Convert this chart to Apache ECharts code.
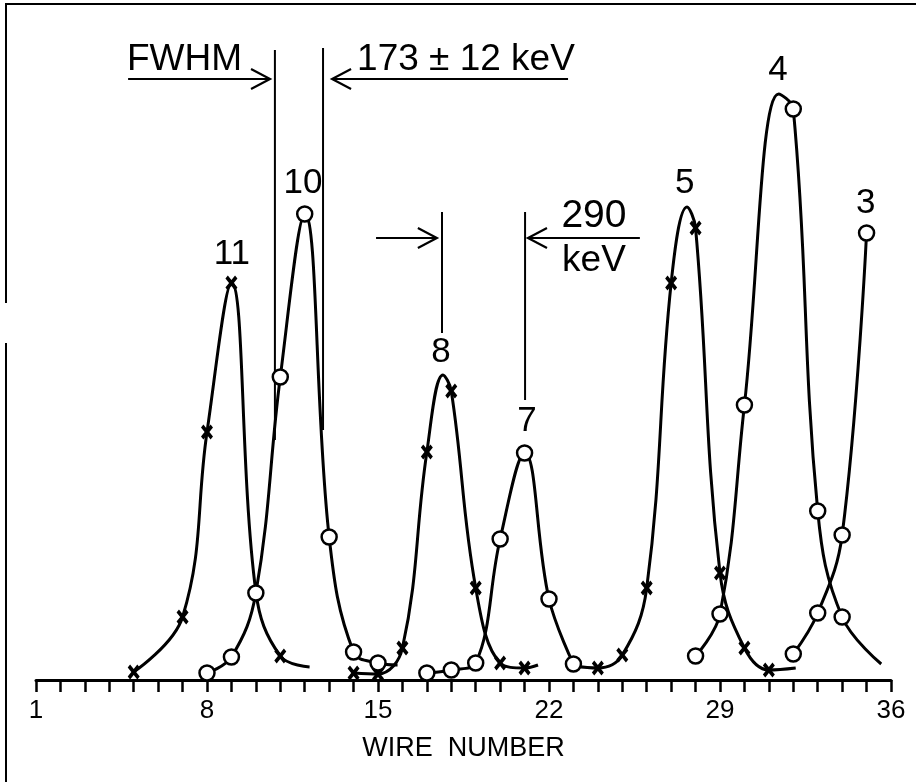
<!DOCTYPE html>
<html>
<head>
<meta charset="utf-8">
<script src="https://cdn.jsdelivr.net/npm/echarts@6/dist/echarts.min.js"></script>
<style>
html, body { margin: 0; padding: 0; background: #fff; }
#chart_wire { width: 916px; height: 782px; }
</style>
</head>
<body>
<div id="chart_wire"></div>
<script>
// counts per wire (arbitrary units, baseline = 0)
// markN: 1 = measured point drawn with a marker, 0 = point on the drawn curve only
var wire11 = [5, 7, 8, 9, 10, 11, 12.2];
var count11 = [8, 63, 248, 397, 88, 24, 13];
var mark11 = [1, 1, 1, 1, 0, 1, 0];

var wire10 = [8, 9, 10, 11, 12, 13, 14, 15, 15.8];
var count10 = [7, 23, 87, 303, 466, 143, 28, 17, 15];
var mark10 = [1, 1, 1, 1, 1, 1, 1, 1, 0];

var wire8 = [14, 15, 16, 17, 17.66, 18, 19, 20, 21, 21.55];
var count8 = [7, 6, 32, 228, 305, 289, 92, 17, 12, 15];
var mark8 = [1, 1, 1, 1, 0, 1, 1, 1, 1, 0];

var wire7 = [17, 18, 19, 20, 21, 22, 23];
var count7 = [7, 10, 17, 141, 227, 81, 16];
var mark7 = [1, 1, 1, 1, 1, 1, 1];

var wire5 = [23, 24, 25, 26, 27, 27.65, 28, 29, 30, 31, 32.1];
var count5 = [14, 12, 25, 92, 397, 473, 452, 107, 32, 10, 12];
var mark5 = [0, 1, 1, 1, 1, 0, 1, 1, 1, 1, 0];

var wire4 = [28, 29, 30, 31.4, 32, 33, 34, 35.6];
var count4 = [24, 66, 275, 586, 571, 169, 63, 16];
var mark4 = [1, 1, 1, 0, 1, 1, 1, 0];

var wire3 = [32, 33, 34, 35];
var count3 = [26, 67, 145, 447];
var mark3 = [1, 1, 1, 1];

var tickLabels = [1, 8, 15, 22, 29, 36];

var crossPath = 'path://M0,4 L4,0 L10,6 L16,0 L20,4 L14,10 L20,16 L16,20 L10,14 L4,20 L0,16 L6,10 Z';
var font = 'Liberation Sans';

function points(xs, ys, marks) {
    return xs.map(function (x, i) {
        var item = { value: [x, ys[i]] };
        if (!marks[i]) item.symbol = 'none';
        return item;
    });
}

function peak(name, xs, ys, marks, kind) {
    var cross = kind === 'x';
    return {
        name: name,
        type: 'line',
        smooth: 0.4,
        data: points(xs, ys, marks),
        symbol: cross ? crossPath : 'circle',
        symbolSize: cross ? [12, 15] : 15,
        showAllSymbol: true,
        lineStyle: { color: '#000', width: 3 },
        itemStyle: cross
            ? { color: '#000', borderWidth: 0 }
            : { color: '#fff', borderColor: '#000', borderWidth: 2.5 },
        z: cross ? 3 : 4
    };
}

var myChart = echarts.init(document.getElementById('chart_wire'));

var option = {
    animation: false,
    backgroundColor: '#fff',
    grid: { left: 36, right: 25, top: 80, bottom: 102 },
    xAxis: {
        type: 'value',
        min: 1,
        max: 36,
        interval: 1,
        name: 'WIRE  NUMBER',
        nameLocation: 'middle',
        nameGap: 55,
        nameTextStyle: { color: '#000', fontSize: 27, fontFamily: font },
        axisLine: { lineStyle: { color: '#000', width: 3 } },
        axisTick: { length: 12, lineStyle: { color: '#000', width: 2.5 } },
        splitLine: { show: false },
        axisLabel: {
            color: '#000',
            fontSize: 26,
            fontFamily: font,
            margin: 18,
            formatter: function (v) {
                return tickLabels.indexOf(v) >= 0 ? String(v) : '';
            }
        }
    },
    yAxis: {
        type: 'value',
        min: 0,
        max: 600,
        show: false
    },
    series: [
        peak('11', wire11, count11, mark11, 'x'),
        peak('10', wire10, count10, mark10, 'o'),
        peak('8', wire8, count8, mark8, 'x'),
        peak('7', wire7, count7, mark7, 'o'),
        peak('5', wire5, count5, mark5, 'x'),
        peak('4', wire4, count4, mark4, 'o'),
        peak('3', wire3, count3, mark3, 'o')
    ]
};

myChart.setOption(option);

// annotations, placed in data coordinates
function px(x, y) {
    return myChart.convertToPixel({ gridIndex: 0 }, [x, y]);
}

function vline(x, y1, y2) {
    var a = px(x, y1), b = px(x, y2);
    return { type: 'line', shape: { x1: a[0], y1: a[1], x2: b[0], y2: b[1] },
        style: { stroke: '#000', lineWidth: 2 } };
}

function arrow(xFrom, xTo, y) {
    var a = px(xFrom, y), b = px(xTo, y);
    var dir = b[0] > a[0] ? 1 : -1;
    return [
        { type: 'line', shape: { x1: a[0], y1: a[1], x2: b[0], y2: b[1] },
            style: { stroke: '#000', lineWidth: 2.2 } },
        { type: 'polyline', shape: { points: [[b[0] - dir * 19, b[1] - 10], [b[0], b[1]], [b[0] - dir * 19, b[1] + 10]] },
            style: { stroke: '#000', lineWidth: 2.2, fill: null } }
    ];
}

function label(text, x, y, size) {
    var p = px(x, y);
    return { type: 'text', x: p[0], y: p[1],
        style: { text: text, fill: '#000', font: size + 'px "' + font + '"', textAlign: 'center', textVerticalAlign: 'middle' } };
}

var g = [];
g.push(vline(10.78, 630, 240));
g.push(vline(12.75, 632, 250));
g.push(vline(17.62, 468, 347));
g.push(vline(21.02, 468, 280));
g = g.concat(arrow(4.77, 10.58, 601));
g = g.concat(arrow(22.78, 13.12, 601));
g = g.concat(arrow(14.92, 17.41, 442));
g = g.concat(arrow(25.72, 21.14, 442));

g.push(label('FWHM', 7.08, 620, 37));
g.push(label('173 \u00b1 12 keV', 18.6, 620, 37));
g.push(label('290', 23.84, 464, 39));
g.push(label('keV', 23.84, 419, 37));

g.push(label('11', 9.02, 426, 35));
g.push(label('10', 11.93, 497, 35));
g.push(label('8', 17.58, 328, 35));
g.push(label('7', 21.1, 259, 35));
g.push(label('5', 27.56, 497, 35));
g.push(label('4', 31.37, 610, 35));
g.push(label('3', 34.97, 477, 35));

// frame of the original figure
g.push({ type: 'line', shape: { x1: 5, y1: 4, x2: 916, y2: 4 }, style: { stroke: '#000', lineWidth: 2 } });
g.push({ type: 'line', shape: { x1: 6, y1: 4, x2: 6, y2: 303 }, style: { stroke: '#000', lineWidth: 2 } });
g.push({ type: 'line', shape: { x1: 6, y1: 343, x2: 6, y2: 782 }, style: { stroke: '#000', lineWidth: 2 } });

myChart.setOption({ graphic: g });

window.addEventListener('resize', function () {
    myChart.resize();
});
</script>
</body>
</html>
